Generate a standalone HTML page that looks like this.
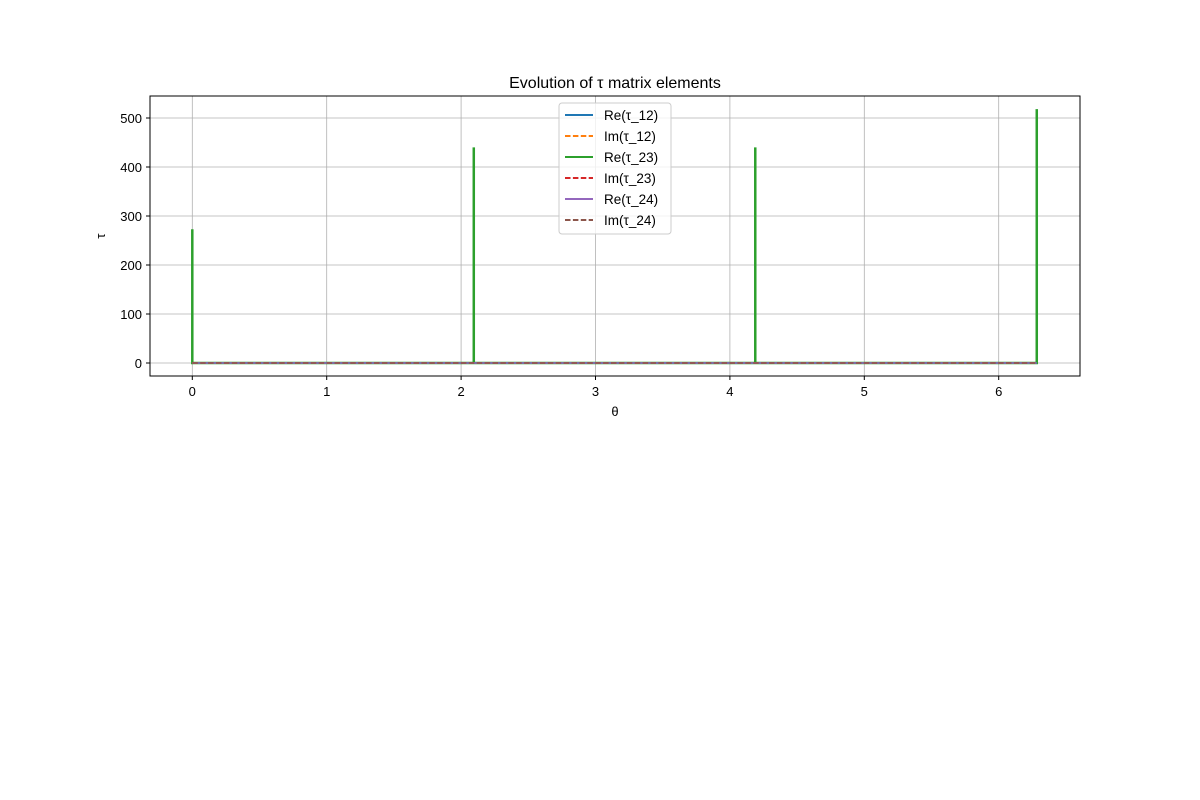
<!DOCTYPE html>
<html><head><meta charset="utf-8"><style>body{margin:0;background:#fff}svg{display:block}text{font-family:"Liberation Sans","DejaVu Sans",sans-serif}</style></head>
<body>
<svg id="chart" width="1200" height="800">
<rect width="1200" height="800" fill="#fff"/>
<g id="grid"></g><g id="series"></g><g id="axes"></g><g id="legend"></g>
</svg>
<script>
const spikeTheta=[0,2.0944,4.1888,6.2832];
const spikeValues=[273,440,440,518];
const xTicks=[0,1,2,3,4,5,6];
const yTicks=[0,100,200,300,400,500];
const seriesNames=["Re(τ_12)","Im(τ_12)","Re(τ_23)","Im(τ_23)","Re(τ_24)","Im(τ_24)"];
const seriesColors=["#1f77b4","#ff7f0e","#2ca02c","#d62728","#9467bd","#8c564b"];
const seriesDashed=[false,true,false,true,false,true];
const L=150,R=1080,T=96,B=376;
const X=v=>192.3+v*134.4, Y=v=>363-v*0.49;
const NS="http://www.w3.org/2000/svg";
function mk(p,t,a){const e=document.createElementNS(NS,t);for(const k in a)e.setAttribute(k,a[k]);p.appendChild(e);return e;}
const grid=document.getElementById('grid'),axes=document.getElementById('axes'),ser=document.getElementById('series'),leg=document.getElementById('legend');
xTicks.forEach(v=>{const x=X(v);
const g=mk(grid,'line',{x1:x,x2:x,y1:T,y2:B,stroke:'#b0b0b0','stroke-width':0.8});


mk(axes,'line',{x1:x,x2:x,y1:B,y2:B+4,stroke:'#000'});
const t=mk(axes,'text',{x:x,y:B+20,'text-anchor':'middle','font-size':13});t.textContent=v;

});
yTicks.forEach(v=>{const y=Y(v);
const g=mk(grid,'line',{x1:L,x2:R,y1:y,y2:y,stroke:'#b0b0b0','stroke-width':0.8});


mk(axes,'line',{x1:L-4,x2:L,y1:y,y2:y,stroke:'#000'});
const t=mk(axes,'text',{x:L-8,y:y+5,'text-anchor':'end','font-size':13});t.textContent=v;

});
// Re(tau_23) with spikes
let d='';
spikeTheta.forEach((t,i)=>{const x=X(t);d+=(i===0?`M${x},${Y(spikeValues[i])}`:` L${x},${Y(0)} L${x},${Y(spikeValues[i])}`)+` L${x},${Y(0)}`;});
const p=mk(ser,'path',{d:d,fill:'none',stroke:seriesColors[2],'stroke-width':2.5});


// baseline series (all near zero)
[0,1,3,4,5].forEach(i=>{const l=mk(ser,'line',{x1:X(0),x2:X(6.2832),y1:Y(0),y2:Y(0),stroke:seriesColors[i],'stroke-width':1.5,'stroke-dasharray':seriesDashed[i]?'5.5,2.4':'none'});

});
mk(axes,'rect',{x:L,y:T,width:R-L,height:B-T,fill:'none',stroke:'#000','stroke-width':1});
const ti=mk(axes,'text',{x:615,y:88,'text-anchor':'middle','font-size':16});ti.textContent='Evolution of τ matrix elements';


const xl=mk(axes,'text',{x:615,y:416,'text-anchor':'middle','font-size':13});xl.textContent='θ';


const yl=mk(axes,'text',{x:105,y:236,'text-anchor':'middle','font-size':13,transform:'rotate(-90 105 236)'});yl.textContent='τ';


const lb=mk(leg,'rect',{x:559,y:103,width:112,height:131,rx:3,fill:'#fff','fill-opacity':0.8,stroke:'#ccc'});


seriesNames.forEach((n,i)=>{const y=115+i*21;
mk(leg,'line',{x1:565,x2:593,y1:y,y2:y,stroke:seriesColors[i],'stroke-width':2,'stroke-dasharray':seriesDashed[i]?'5.5,2.4':'none'});
const t=mk(leg,'text',{x:604,y:y+5,'font-size':13.5});t.textContent=n;

});
</script>
</body></html>
